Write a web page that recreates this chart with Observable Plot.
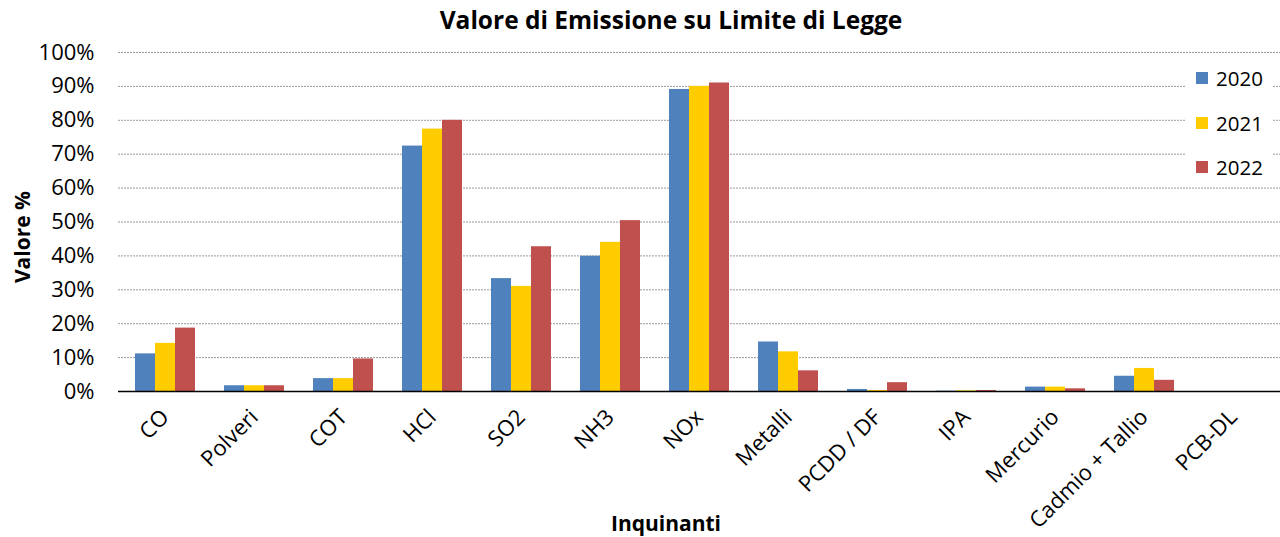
<!DOCTYPE html>
<html>
<head>
<meta charset="utf-8">
<script src="https://cdn.jsdelivr.net/npm/d3@7"></script>
<script src="https://cdn.jsdelivr.net/npm/@observablehq/plot@0.6"></script>
<style>
  html, body { margin:0; padding:0; background:#fff; }
  #wrap { position:relative; width:1280px; height:537px; font-family:"Open Sans", sans-serif; color:#000; }
  #wrap svg { position:absolute; left:0; top:0; }
  .title { position:absolute; left:0; width:1342px; top:8px; line-height:1; text-align:center; font-weight:bold; font-size:24.5px; }
  .ylab { position:absolute; left:22px; top:237px; transform:translate(-50%,-50%) rotate(-90deg); font-weight:bold; font-size:21px; white-space:nowrap; }
  .xlab { position:absolute; left:666px; top:523px; transform:translate(-50%,-50%); font-weight:bold; font-size:21px; white-space:nowrap; }
  .legend { position:absolute; left:1186px; top:60px; width:86px; height:126px; background:#fff; }
  .legend .item { position:absolute; left:10px; height:24px; display:flex; align-items:center; font-size:20.5px; }
  .legend .sw { width:12px; height:12px; margin-right:8px; }
</style>
</head>
<body>
<div id="wrap"></div>
<script>
const categories = ["CO","Polveri","COT","HCl","SO2","NH3","NOx","Metalli","PCDD / DF","IPA","Mercurio","Cadmio + Tallio","PCB-DL"];
const years = ["2020","2021","2022"];
const v2020 = [11.1, 1.7, 3.8, 72.4, 33.3, 39.9, 89.1, 14.6, 0.6, 0.1, 1.3, 4.5, 0];
const v2021 = [14.2, 1.7, 3.8, 77.4, 31.0, 44.0, 90.0, 11.7, 0.3, 0.2, 1.3, 6.8, 0];
const v2022 = [18.7, 1.7, 9.6, 80.0, 42.7, 50.4, 91.0, 6.1, 2.6, 0.3, 0.8, 3.3, 0];
const colors = ["#4F81BD", "#FFCC00", "#C0504D"];
const yTicks = [0,10,20,30,40,50,60,70,80,90,100];

const series = [v2020, v2021, v2022];
const data = categories.flatMap((c, i) => years.map((y, j) => ({cat: c, year: y, value: series[j][i]})));

const common = {
  width: 1280, height: 537,
  marginTop: 52, marginBottom: 146, marginLeft: 118, marginRight: 0
};

// Base layer: grid and axes
const base = Plot.plot({
  ...common,
  style: {fontFamily: "Open Sans, sans-serif", fontSize: "22px", color: "#000", background: "#fff"},
  x: {domain: categories, paddingInner: 0.33, paddingOuter: 0.165, label: null, tickRotate: -45, tickSize: 0, tickPadding: 22},
  y: {domain: [0, 100], ticks: yTicks, tickFormat: d => d + "%", label: null, tickSize: 0, tickPadding: 24},
  marks: [
    Plot.ruleY(yTicks.filter(d => d > 0), {stroke: "#9a9a9a", strokeDasharray: "2,1"})
  ]
});

// Bar layer: grouped bars via fx facets
const bars = Plot.plot({
  ...common,
  style: {background: "transparent"},
  fx: {domain: categories, paddingInner: 0.33, paddingOuter: 0.165, axis: null, label: null},
  x: {domain: years, padding: 0, axis: null},
  y: {domain: [0, 100], axis: null},
  color: {domain: years, range: colors},
  marks: [
    Plot.barY(data, {fx: "cat", x: "year", y: "value", fill: "year"})
  ]
});

// Baseline layer on top
const baseline = Plot.plot({
  ...common,
  style: {background: "transparent"},
  x: {domain: categories, axis: null},
  y: {domain: [0, 100], axis: null},
  marks: [Plot.ruleY([0], {stroke: "#000", strokeWidth: 1.5})]
});

const wrap = document.getElementById("wrap");
wrap.appendChild(base);
wrap.appendChild(bars);
wrap.appendChild(baseline);

const t = document.createElement("div"); t.className = "title"; t.textContent = "Valore di Emissione su Limite di Legge"; wrap.appendChild(t);
const yl = document.createElement("div"); yl.className = "ylab"; yl.textContent = "Valore %"; wrap.appendChild(yl);
const xl = document.createElement("div"); xl.className = "xlab"; xl.textContent = "Inquinanti"; wrap.appendChild(xl);
const lg = document.createElement("div"); lg.className = "legend";
years.forEach((y, i) => {
  const it = document.createElement("div"); it.className = "item"; it.style.top = (6 + i * 44.5) + "px";
  const sw = document.createElement("div"); sw.className = "sw"; sw.style.background = colors[i];
  it.appendChild(sw); it.appendChild(document.createTextNode(y)); lg.appendChild(it);
});
wrap.appendChild(lg);
</script>
</body>
</html>
